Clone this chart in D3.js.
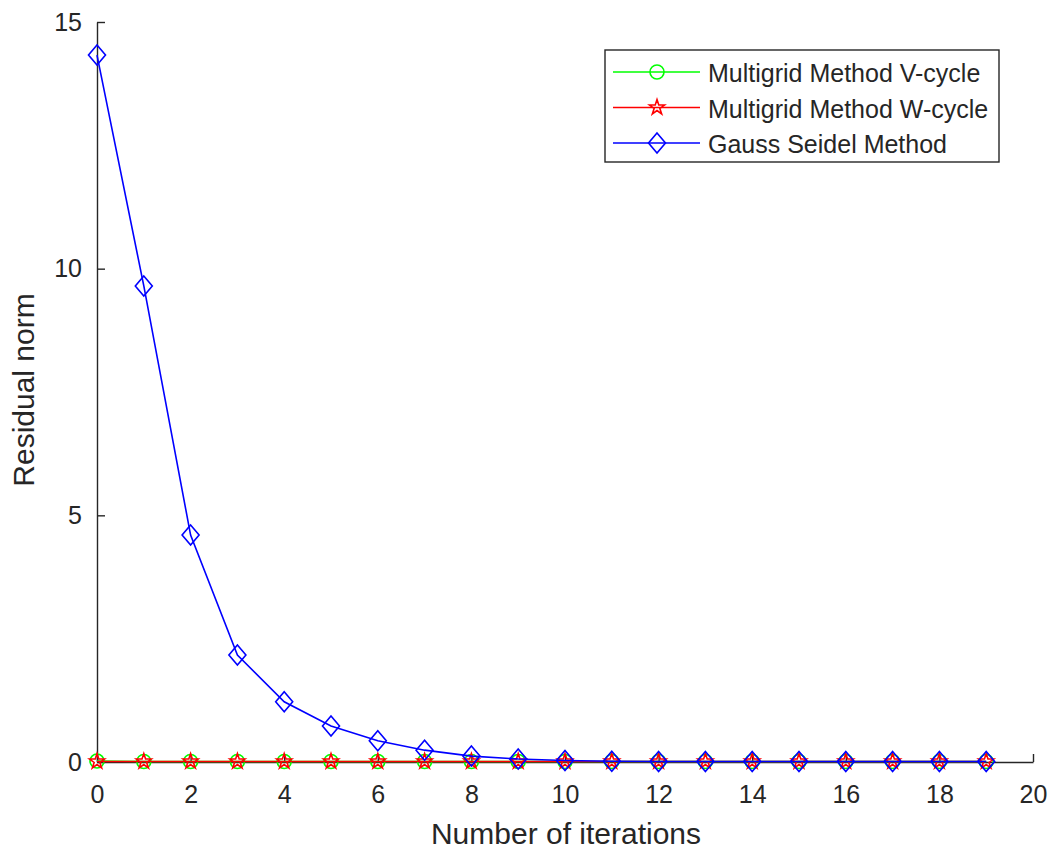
<!DOCTYPE html>
<html><head><meta charset="utf-8">
<script src="https://cdn.jsdelivr.net/npm/d3@7"></script>
<style>body{margin:0;background:#fff;} svg{display:block;}</style>
</head><body>
<svg id="c" width="1054" height="852"></svg>
<script>
const iterations = d3.range(0, 20);
const vCycle = [0.02,0.01,0.01,0.01,0.01,0.01,0.01,0.01,0.01,0.01,0.01,0.01,0.01,0.01,0.01,0.01,0.01,0.01,0.01,0.01];
const wCycle = [0.01,0.01,0.01,0.01,0.01,0.01,0.01,0.01,0.01,0.01,0.01,0.01,0.01,0.01,0.01,0.01,0.01,0.01,0.01,0.01];
const gaussSeidel = [14.33,9.65,4.60,2.17,1.22,0.73,0.43,0.24,0.12,0.06,0.03,0.015,0.01,0.01,0.01,0.01,0.01,0.01,0.01,0.01];
const xTicks = [0,2,4,6,8,10,12,14,16,18,20];
const yTicks = [0,5,10,15];
const seriesNames = ["Multigrid Method V-cycle","Multigrid Method W-cycle","Gauss Seidel Method"];

const svg = d3.select("#c");
const L = 97, R = 1033, T = 22, B = 762;
const x = d3.scaleLinear().domain([0,20]).range([L,R]);
const y = d3.scaleLinear().domain([0,15]).range([B,T]);
const axisColor = "#262626";
const font = "Liberation Sans, Arial, Helvetica, sans-serif";

const gx = svg.append("g").attr("transform",`translate(0,${B})`)
  .call(d3.axisBottom(x).tickValues(xTicks).tickSizeInner(-8).tickSizeOuter(0).tickPadding(23));
const gy = svg.append("g").attr("transform",`translate(${L},0)`)
  .call(d3.axisLeft(y).tickValues(yTicks).tickSizeInner(-8).tickSizeOuter(0).tickPadding(15));
[gx,gy].forEach(g=>{
  g.selectAll("path.domain").attr("stroke",axisColor).attr("stroke-width",1.4);
  g.selectAll(".tick line").attr("stroke",axisColor).attr("stroke-width",1.4);
  g.selectAll(".tick text").attr("fill",axisColor).style("font-family",font).style("font-size","25px");
});

svg.append("text").attr("x",566).attr("y",844).attr("text-anchor","middle")
  .attr("fill",axisColor).style("font-family",font).style("font-size","30px").text("Number of iterations");
svg.append("text").attr("transform",`translate(34,390) rotate(-90)`).attr("text-anchor","middle")
  .attr("fill",axisColor).style("font-family",font).style("font-size","30px").text("Residual norm");

const line = d3.line().x((d,i)=>x(iterations[i])).y(d=>y(d));
const starPath = d3.symbol().type(d3.symbolStar).size(70)();
const diamondPath = "M0,-10L8.5,0L0,10L-8.5,0Z";

function drawMarker(g, type, color){
  if(type==="circle") g.append("circle").attr("r",7).attr("fill","none").attr("stroke",color).attr("stroke-width",1.6);
  else if(type==="star") g.append("path").attr("d",starPath).attr("fill","none").attr("stroke",color).attr("stroke-width",1.6);
  else g.append("path").attr("d",diamondPath).attr("fill","none").attr("stroke",color).attr("stroke-width",1.6);
}

const series = [
  {name:seriesNames[0], data:vCycle, color:"#00ff00", marker:"circle"},
  {name:seriesNames[1], data:wCycle, color:"#ff0000", marker:"star"},
  {name:seriesNames[2], data:gaussSeidel, color:"#0000ff", marker:"diamond"}
];
series.forEach(s=>{
  svg.append("path").datum(s.data).attr("d",line).attr("fill","none").attr("stroke",s.color).attr("stroke-width",1.6);
  s.data.forEach((v,i)=>{
    const g = svg.append("g").attr("transform",`translate(${x(iterations[i])},${y(v)})`);
    drawMarker(g, s.marker, s.color);
  });
});

// legend
const lg = svg.append("g");
lg.append("rect").attr("x",605).attr("y",50).attr("width",394).attr("height",112)
  .attr("fill","#fff").attr("stroke",axisColor).attr("stroke-width",1.4);
series.forEach((s,i)=>{
  const yy = 72 + i*35.5;
  lg.append("line").attr("x1",613).attr("x2",700).attr("y1",yy).attr("y2",yy).attr("stroke",s.color).attr("stroke-width",1.6);
  const g = lg.append("g").attr("transform",`translate(657,${yy})`);
  drawMarker(g, s.marker, s.color);
  lg.append("text").attr("x",708).attr("y",yy+10).attr("fill",axisColor)
    .style("font-family",font).style("font-size","25px").text(s.name);
});
</script>
</body></html>
